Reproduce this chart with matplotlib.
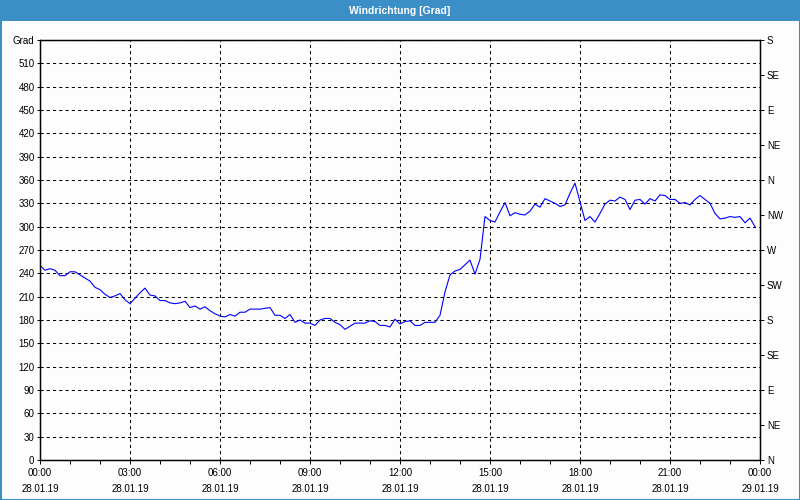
import numpy as np
import pandas as pd
import matplotlib
matplotlib.use("Agg")
import matplotlib.pyplot as plt
import matplotlib.dates as mdates
from matplotlib.patches import Rectangle

plt.rcParams['font.family'] = ['Liberation Sans', 'DejaVu Sans']

# ---- data (10-minute values, 28.01.19 00:00 .. 23:50) ----
start_time = "2019-01-28 00:00"
step = "10min"
direction = [
    250, 244, 246, 244, 237, 237, 242, 242, 238, 234, 230, 222,
    219, 213, 209, 211, 214, 206, 201, 208, 215, 221, 212, 211,
    205, 205, 202, 201, 202, 204, 196, 198, 194, 197, 192, 188,
    185, 184, 187, 185, 190, 190, 194, 194, 194, 195, 196, 186,
    186, 182, 187, 177, 180, 176, 176, 173, 180, 182, 182, 177,
    174, 168, 172, 176, 176, 176, 179, 178, 173, 173, 171, 181,
    175, 178, 179, 173, 173, 177, 177, 177, 186, 216, 238, 243,
    245, 251, 257, 239, 258, 313, 308, 306, 319, 331, 314, 318,
    316, 315, 320, 329, 325, 336, 333, 330, 326, 328, 343, 356,
    332, 308, 313, 306, 317, 329, 334, 333, 338, 335, 322, 334,
    335, 329, 336, 333, 341, 340, 335, 335, 330, 331, 328, 335,
    340, 335, 330, 317, 310, 311, 313, 312, 313, 305, 311, 300,
]
title = "Windrichtung [Grad]"
left_ticks = list(range(0, 541, 30))
left_labels = [str(v) for v in range(0, 511, 30)] + ["Grad"]
right_ticks = list(range(0, 541, 45))
right_labels = ["N", "NE", "E", "SE", "S", "SW", "W", "NW", "N", "NE", "E", "SE", "S"]
x_start = "2019-01-28 00:00"
x_end = "2019-01-29 00:00"

times = pd.date_range(start_time, periods=len(direction), freq=step)

BLUE = '#3c8fc6'
BG = '#fcfdfc'

fig = plt.figure(figsize=(8, 5), dpi=100)
fig.patch.set_facecolor(BG)

# title bar and frame
fig.add_artist(Rectangle((0, 1 - 21 / 500), 1, 21 / 500, transform=fig.transFigure,
                         facecolor=BLUE, edgecolor='none', zorder=0))
fig.add_artist(Rectangle((0, 0), 1, 1, transform=fig.transFigure, fill=False,
                         edgecolor=BLUE, linewidth=2.2, zorder=5))
fig.text(0.5, 1 - 10.5 / 500, title, color='white', fontsize=7.5, fontweight='bold',
         ha='center', va='center')

ax = fig.add_axes([40 / 800, 40 / 500, 720 / 800, 420 / 500])
ax.set_facecolor(BG)
ax.plot(times, direction, color='#0000ff', linewidth=0.8, zorder=3)

ax.set_xlim(pd.Timestamp(x_start), pd.Timestamp(x_end))
ax.set_ylim(0, 540)

ax.xaxis.set_major_locator(mdates.HourLocator(byhour=range(0, 24, 3)))
ax.xaxis.set_minor_locator(mdates.HourLocator())
ax.xaxis.set_major_formatter(mdates.DateFormatter('%H:%M\n%d.%m.%y'))

ax.set_yticks(left_ticks)
ax.set_yticklabels(left_labels)

ax.tick_params(axis='x', which='major', length=3, width=0.7, labelsize=7, pad=3, direction='out')
ax.tick_params(axis='x', which='minor', length=3, width=0.7, direction='out')
ax.tick_params(axis='y', length=2, width=0.7, labelsize=7, pad=2, direction='out')
for lbl in ax.get_xticklabels():
    lbl.set_linespacing(1.7)

ax.grid(True, which='major', color='black', linestyle=(0, (3, 3)), linewidth=0.75)
for sp in ax.spines.values():
    sp.set_linewidth(0.9)
    sp.set_color('black')

ax2 = ax.twinx()
ax2.set_ylim(0, 540)
ax2.set_yticks(right_ticks)
ax2.set_yticklabels(right_labels)
ax2.tick_params(axis='y', length=3, width=0.7, labelsize=7, pad=2, direction='out')
for sp in ax2.spines.values():
    sp.set_linewidth(0.9)

fig.savefig("out.png", dpi=100, facecolor=BG)
